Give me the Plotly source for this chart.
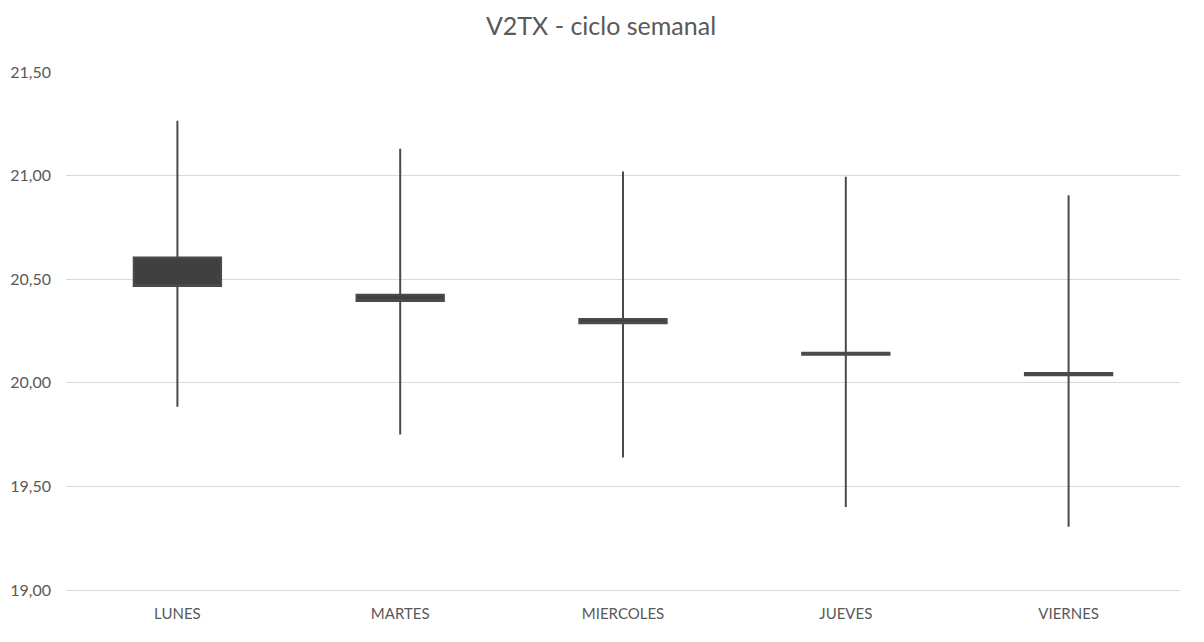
import plotly.graph_objects as go

days = ["LUNES", "MARTES", "MIERCOLES", "JUEVES", "VIERNES"]
open_v = [20.605, 20.425, 20.308, 20.145, 20.047]
high_v = [21.265, 21.13, 21.02, 20.995, 20.905]
low_v = [19.885, 19.75, 19.64, 19.40, 19.305]
close_v = [20.467, 20.395, 20.288, 20.135, 20.037]

y_ticks = [19.0, 19.5, 20.0, 20.5, 21.0, 21.5]

dark = "#404040"
text_col = "#595959"
grid_col = "#d9d9d9"

fig = go.Figure(go.Candlestick(
    x=days, open=open_v, high=high_v, low=low_v, close=close_v,
    increasing=dict(line=dict(color="#4a4a4a", width=2), fillcolor=dark),
    decreasing=dict(line=dict(color="#4a4a4a", width=2), fillcolor=dark),
    whiskerwidth=0,
    showlegend=False,
))

fig.update_layout(
    width=1204, height=642,
    margin=dict(l=58, r=32, t=64, b=60, autoexpand=False),
    paper_bgcolor="white", plot_bgcolor="white",
    separators=",.",
    boxgap=0.44,
    title=dict(text="V2TX - ciclo semanal", x=0.4925, xanchor="center", y=0.972, yanchor="middle",
               font=dict(family="Lato, Open Sans, sans-serif", size=25, color=text_col)),
    font=dict(family="Lato, Open Sans, sans-serif", size=15, color=text_col),
    xaxis=dict(type="category", rangeslider=dict(visible=False), showgrid=False,
               showline=True, linecolor=grid_col, linewidth=1, ticks="",
               ticklabelstandoff=10, automargin=False,
               tickfont=dict(size=15, color=text_col)),
    yaxis=dict(range=[19.0, 21.5], tickvals=y_ticks, tickformat=".2f",
               showgrid=True, gridcolor=grid_col, gridwidth=1, zeroline=False,
               showline=False, ticks="", ticklabelstandoff=14, automargin=False,
               tickfont=dict(size=16, color=text_col)),
)

fig.write_html("out.html")
